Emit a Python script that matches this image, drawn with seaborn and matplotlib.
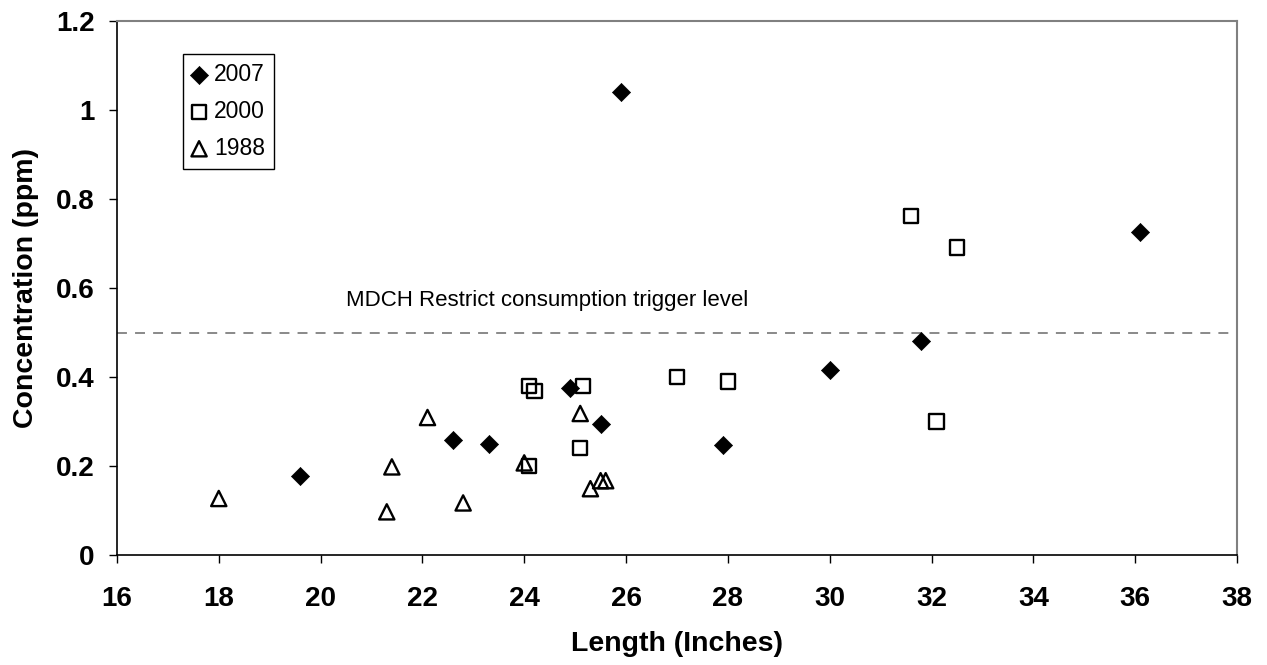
import numpy as np
import pandas as pd
import seaborn as sns
from matplotlib import pyplot as plt
from matplotlib.ticker import FuncFormatter

# values
len_2007 = [19.6, 22.6, 23.3, 24.9, 25.5, 25.9, 27.9, 30.0, 31.8, 36.1]
conc_2007 = [0.178, 0.259, 0.25, 0.375, 0.295, 1.04, 0.248, 0.416, 0.482, 0.726]

len_2000 = [24.1, 24.2, 24.1, 25.15, 25.1, 27.0, 28.0, 31.6, 32.5, 32.1]
conc_2000 = [0.379, 0.369, 0.2, 0.38, 0.241, 0.40, 0.39, 0.761, 0.691, 0.30]

len_1988 = [18.0, 21.3, 21.4, 22.1, 22.8, 24.0, 25.1, 25.3, 25.5, 25.6]
conc_1988 = [0.127, 0.097, 0.198, 0.309, 0.117, 0.207, 0.318, 0.149, 0.167, 0.167]

trigger_level = 0.5
trigger_label = "MDCH Restrict consumption trigger level"

x_ticks = list(range(16, 39, 2))
y_ticks = [0, 0.2, 0.4, 0.6, 0.8, 1.0, 1.2]

df = pd.concat([
    pd.DataFrame({"length": len_2007, "conc": conc_2007, "year": "2007"}),
    pd.DataFrame({"length": len_2000, "conc": conc_2000, "year": "2000"}),
    pd.DataFrame({"length": len_1988, "conc": conc_1988, "year": "1988"}),
])

sns.set_style("white")
plt.rcParams["font.family"] = ["Liberation Sans", "DejaVu Sans"]
plt.rcParams["text.color"] = "black"
plt.rcParams["axes.labelcolor"] = "black"
plt.rcParams["xtick.color"] = "black"
plt.rcParams["ytick.color"] = "black"

fig, ax = plt.subplots(figsize=(12.67, 6.65), dpi=100)
fig.subplots_adjust(left=0.0923, right=0.9763, bottom=0.1654, top=0.9684)

# hollow series first, filled diamonds on top
sns.scatterplot(
    data=df[df.year == "1988"], x="length", y="conc", ax=ax, marker="^",
    s=120, facecolor="none", edgecolor="black", linewidth=1.7, label="1988",
    zorder=3,
)
sns.scatterplot(
    data=df[df.year == "2000"], x="length", y="conc", ax=ax, marker="s",
    s=105, facecolor="none", edgecolor="black", linewidth=1.7, label="2000",
    zorder=3,
)
sns.scatterplot(
    data=df[df.year == "2007"], x="length", y="conc", ax=ax, marker="D",
    s=85, color="black", edgecolor="black", linewidth=0.5, label="2007",
    zorder=4,
)

# trigger level
ax.axhline(trigger_level, color="#808080", lw=1.3, dashes=(5.5, 4.5), zorder=2)
ax.text(20.5, 0.559, trigger_label, fontsize=16, va="baseline", ha="left")

ax.set_xlim(16, 38)
ax.set_ylim(0, 1.2)
ax.set_xticks(x_ticks)
ax.set_yticks(y_ticks)
ax.yaxis.set_major_formatter(FuncFormatter(lambda v, p: f"{v:g}"))

ax.tick_params(axis="both", direction="out", length=6, width=1, color="black",
               labelsize=20, bottom=True, left=True)
ax.tick_params(axis="x", pad=16)
ax.tick_params(axis="y", pad=10)
for lab in ax.get_xticklabels() + ax.get_yticklabels():
    lab.set_fontweight("bold")

ax.set_xlabel("Length (Inches)", fontsize=20.5, fontweight="bold", labelpad=14)
ax.set_ylabel("Concentration (ppm)", fontsize=20.5, fontweight="bold", labelpad=12)

for side in ["left", "bottom"]:
    ax.spines[side].set_color("black")
    ax.spines[side].set_linewidth(1.2)
for side in ["top", "right"]:
    ax.spines[side].set_color("#808080")
    ax.spines[side].set_linewidth(1.5)

handles, labels = ax.get_legend_handles_labels()
order = [labels.index(y) for y in ["2007", "2000", "1988"]]
leg = ax.legend(
    [handles[i] for i in order], [labels[i] for i in order],
    loc="upper left", bbox_to_anchor=(0.059, 0.938), borderaxespad=0,
    fontsize=16.5, frameon=True, fancybox=False, framealpha=1,
    edgecolor="black", handlelength=0.6, handletextpad=0.35,
    labelspacing=0.6, borderpad=0.4, scatterpoints=1,
)
leg.get_frame().set_linewidth(1.0)

plt.savefig("out.png", dpi=100)
plt.close()
